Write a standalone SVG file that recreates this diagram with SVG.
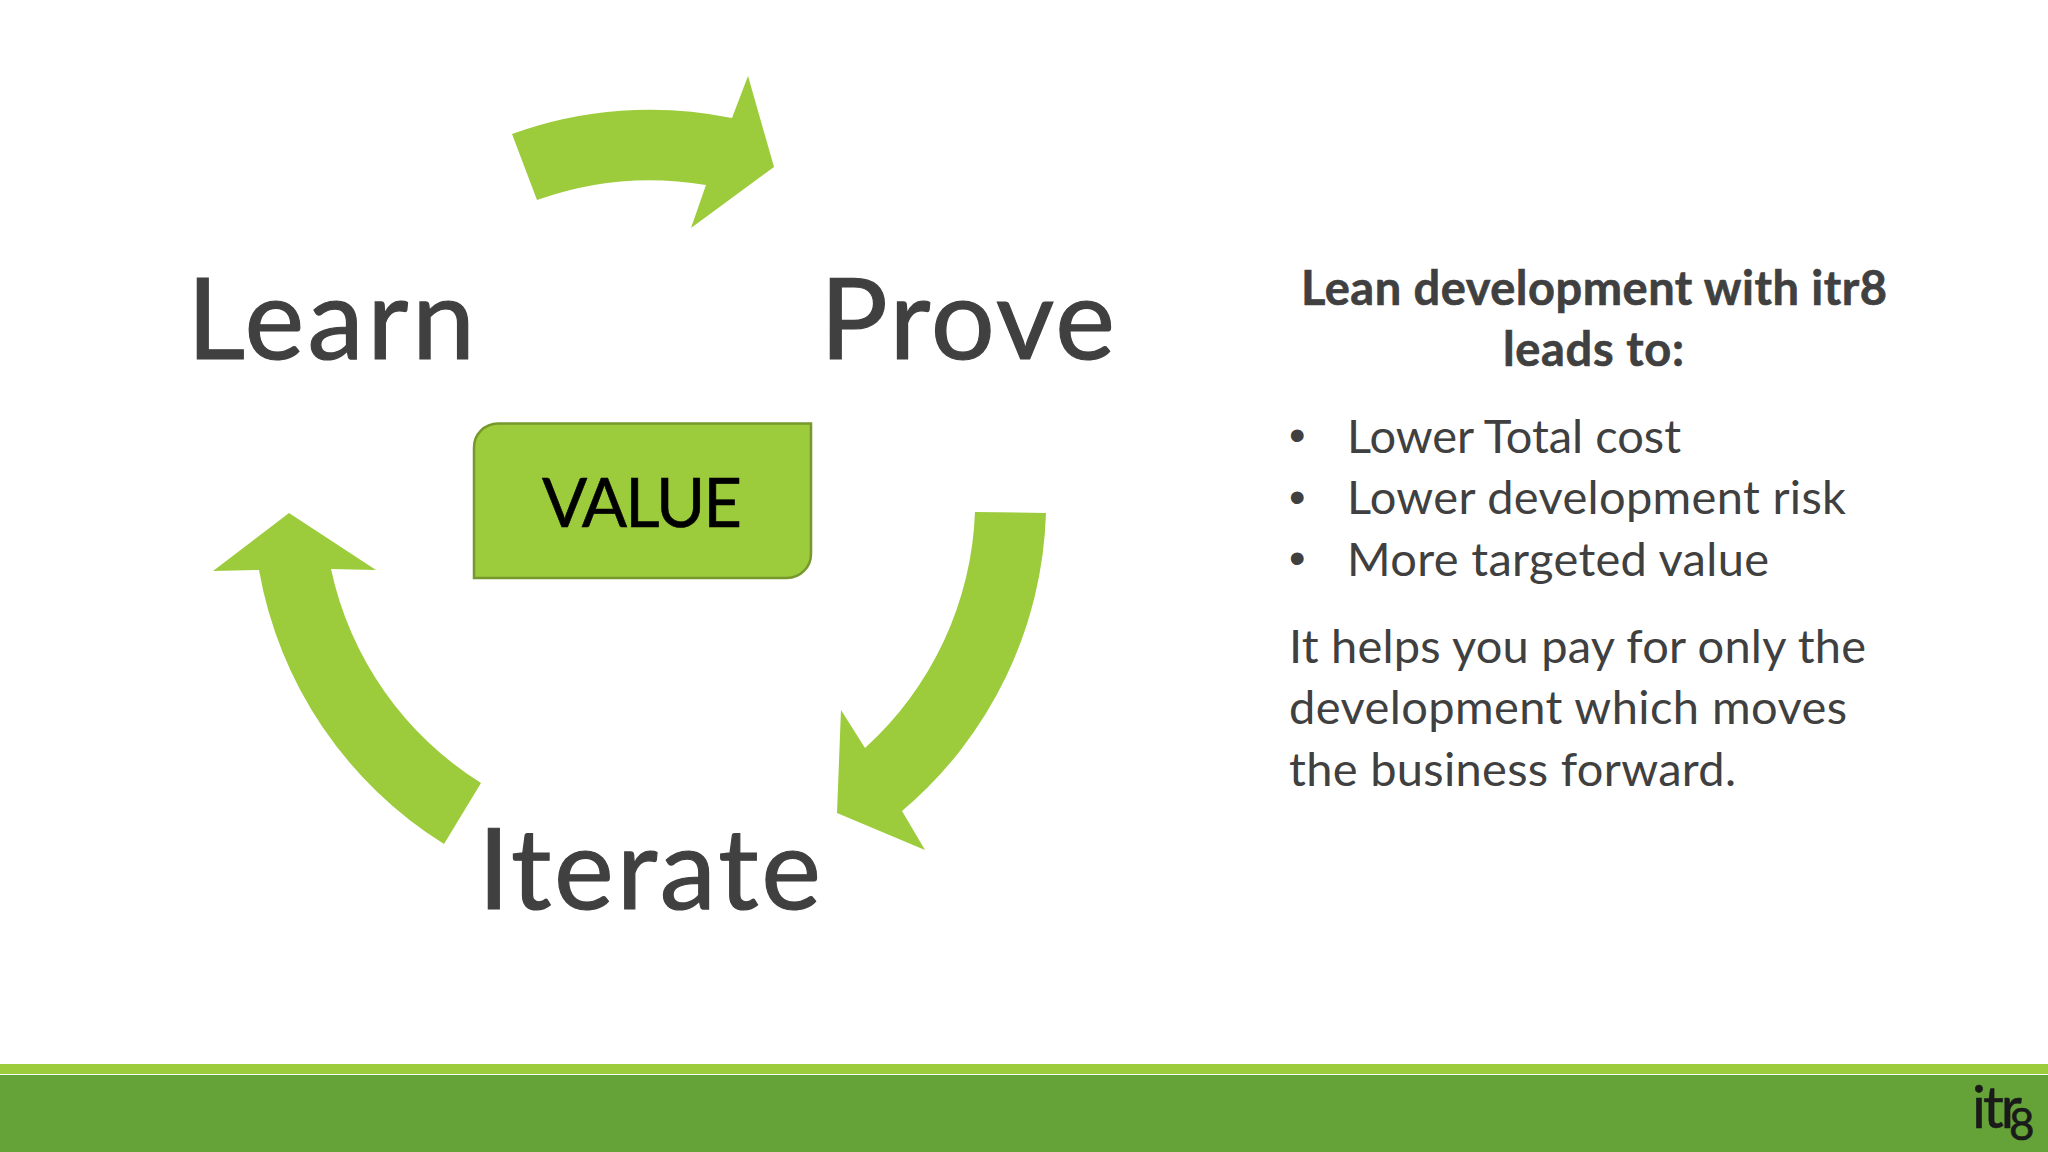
<svg xmlns="http://www.w3.org/2000/svg" width="2048" height="1152" viewBox="0 0 2048 1152">
<style>
.arrow{fill:#9ccb3b}
.big{font-family:Lato,"Open Sans",sans-serif;font-size:113px;fill:#404040;stroke:#404040;stroke-width:1.2px}
.body{font-family:Lato,"Open Sans",sans-serif;font-size:47px;fill:#404040}
.dot{font-family:"Liberation Sans",Arial,sans-serif;font-size:47px;fill:#404040}
.b{font-weight:700;stroke:#404040;stroke-width:.6px}
</style>
<rect width="2048" height="1152" fill="#ffffff"/>
<rect y="1064" width="2048" height="10" fill="#9ccb3b"/>
<rect y="1075" width="2048" height="77" fill="#65a338"/>
<g id="connectors">
<path class="arrow" d="M512 134A406 406 0 0 1 732 118L748 76L774 167L691 228L706 185A335 335 0 0 0 537 200Z"/>
<path class="arrow" d="M975 512L1046 513A406 406 0 0 1 902 811L925 850L837 813L841 710L865 748A335 335 0 0 0 975 512Z"/>
<path class="arrow" d="M481 783A335 335 0 0 1 331 569L376 570L289 513L213 571L259 570A406 406 0 0 0 444 844Z"/>
</g>
<g id="learn"><text class="big" x="187" y="359" textLength="288">Learn</text></g>
<g id="prove"><text class="big" x="820" y="359" textLength="295">Prove</text></g>
<g id="iterate"><text class="big" x="478" y="909" textLength="343">Iterate</text></g>
<g id="value">
<path d="M498 423.500H811V554A24 24 0 0 1 787 578H474V448A24 24 0 0 1 498 423.500Z" fill="#9ccb3b" stroke="#76982c" stroke-width="2.500"/>
<text x="542" y="527" font-family="Lato,'Open Sans',sans-serif" font-size="67" fill="#000000" stroke="#000" stroke-width=".6" textLength="200">VALUE</text>
</g>
<g id="copy">
<text class="body b" x="1301" y="305" textLength="586">Lean development with itr8</text>
<text class="body b" x="1503" y="366" textLength="181">leads to:</text>
<text class="dot" x="1289" y="451">•</text>
<text class="body" x="1347" y="453" textLength="334">Lower Total cost</text>
<text class="dot" x="1289" y="513">•</text>
<text class="body" x="1347" y="514" textLength="499">Lower development risk</text>
<text class="dot" x="1289" y="574">•</text>
<text class="body" x="1347" y="576" textLength="422">More targeted value</text>
<text class="body" x="1289" y="663" textLength="577">It helps you pay for only the</text>
<text class="body" x="1289" y="724" textLength="558">development which moves</text>
<text class="body" x="1289" y="786" textLength="447">the business forward.</text>
</g>
<g id="logo" font-family="Lato,sans-serif" fill="#1a1a1a" stroke="#1a1a1a" stroke-width=".6">
<text x="1972" y="1128" font-size="58" letter-spacing="-3">itr<tspan x="2009" y="1140" font-size="44" letter-spacing="0">8</tspan></text>
</g>
</svg>
